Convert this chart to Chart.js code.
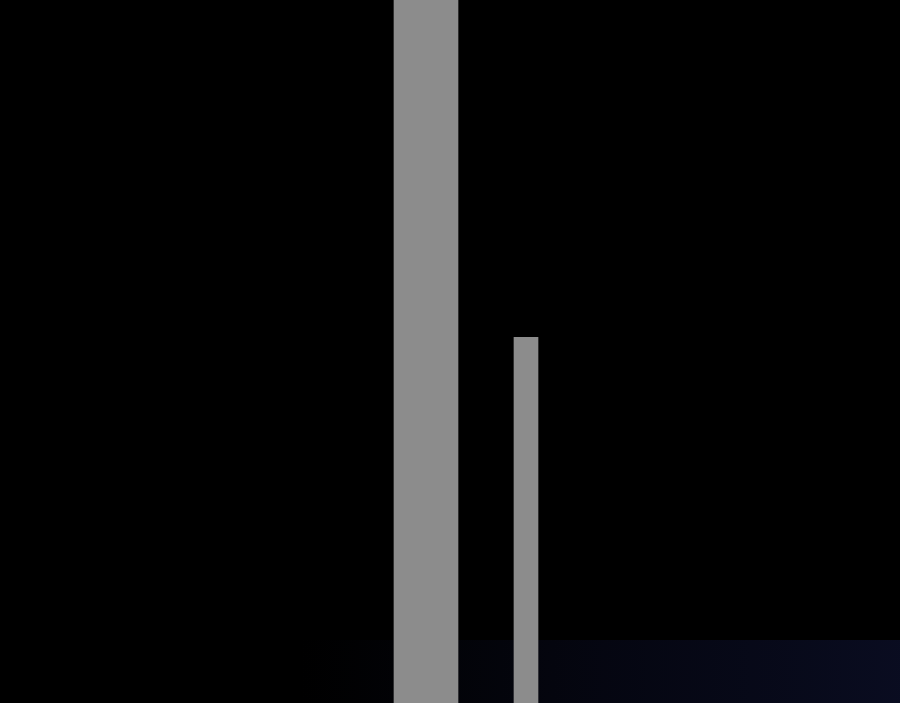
<!DOCTYPE html>
<html>
<head>
<meta charset="utf-8">
<script src="https://cdn.jsdelivr.net/npm/chart.js@4/dist/chart.umd.min.js"></script>
<style>
  html, body { margin: 0; padding: 0; background: #000; overflow: hidden; }
  #wrap { width: 900px; height: 703px; position: relative; }
</style>
</head>
<body>
<div id="wrap"><canvas id="c" width="900" height="703"></canvas></div>
<script>
// Data
const positions = [426, 526];     // bar centres on the x axis (0–900 units)
const values = [100, 52];         // bar heights (0–100 scale)
const seriesNames = ['A', 'B'];

const bgPlugin = {
  id: 'bg',
  beforeDraw(chart) {
    const ctx = chart.ctx;
    ctx.save();
    ctx.fillStyle = '#000';
    ctx.fillRect(0, 0, chart.width, chart.height);
    const g = ctx.createLinearGradient(300, 0, 900, 0);
    g.addColorStop(0, 'rgba(8,10,26,0)');
    g.addColorStop(0.5, 'rgba(8,10,28,0.6)');
    g.addColorStop(1, 'rgba(10,13,34,0.95)');
    ctx.fillStyle = g;
    ctx.fillRect(300, 640, 600, 63);
    ctx.restore();
  }
};

new Chart(document.getElementById('c'), {
  type: 'bar',
  data: {
    datasets: [
      { label: seriesNames[0], data: [{ x: positions[0], y: values[0] }], backgroundColor: '#8c8c8c', barThickness: 64, grouped: false },
      { label: seriesNames[1], data: [{ x: positions[1], y: values[1] }], backgroundColor: '#8c8c8c', barThickness: 24, grouped: false }
    ]
  },
  options: {
    responsive: false,
    animation: false,
    devicePixelRatio: 1,
    layout: { padding: 0 },
    plugins: { legend: { display: false }, tooltip: { enabled: false } },
    scales: {
      x: { type: 'linear', min: 0, max: 900, display: false, offset: false },
      y: { min: 0, max: 100, display: false }
    }
  },
  plugins: [bgPlugin]
});
</script>
</body>
</html>
